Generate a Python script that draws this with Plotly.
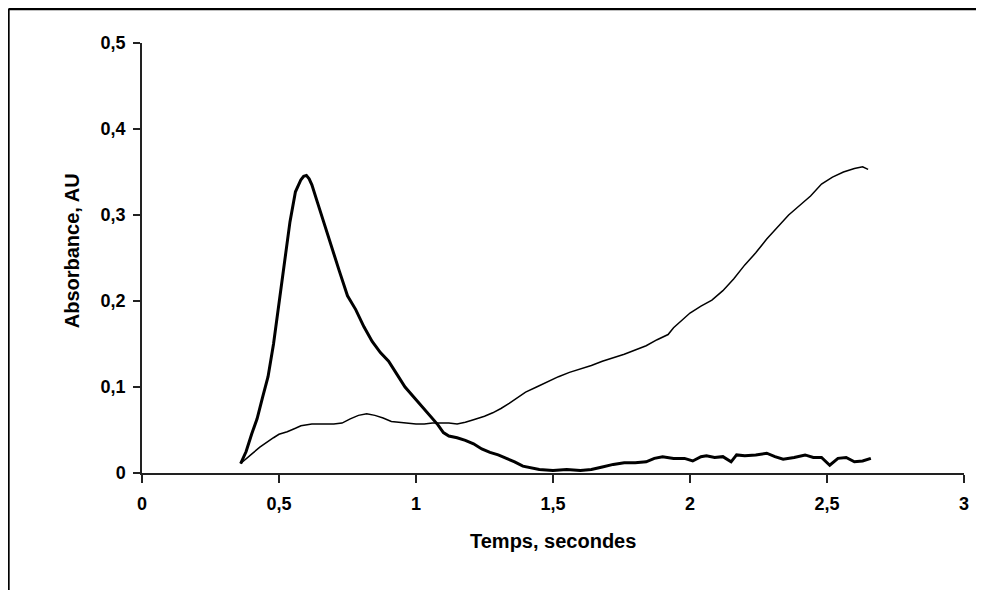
import plotly.graph_objects as go

# Thick curve (fast transient)
thick_x = [0.36, 0.38, 0.40, 0.42, 0.44, 0.46, 0.48, 0.50, 0.52, 0.54, 0.56, 0.58, 0.59, 0.60,
           0.61, 0.62, 0.64, 0.66, 0.68, 0.70, 0.72, 0.75, 0.78, 0.81, 0.84, 0.87, 0.90, 0.93,
           0.96, 0.99, 1.02, 1.05, 1.08, 1.10, 1.12, 1.15, 1.18, 1.21, 1.24, 1.27, 1.30, 1.33,
           1.36, 1.39, 1.42, 1.45, 1.50, 1.55, 1.60, 1.64, 1.68, 1.72, 1.76, 1.80, 1.84, 1.87,
           1.90, 1.94, 1.98, 2.01, 2.04, 2.06, 2.09, 2.12, 2.15, 2.17, 2.20, 2.24, 2.28, 2.31,
           2.34, 2.38, 2.42, 2.45, 2.48, 2.51, 2.54, 2.57, 2.60, 2.63, 2.66]
thick_y = [0.011, 0.025, 0.045, 0.063, 0.088, 0.112, 0.150, 0.198, 0.245, 0.292, 0.327, 0.341, 0.345, 0.346,
           0.342, 0.335, 0.315, 0.295, 0.273, 0.253, 0.235, 0.206, 0.190, 0.170, 0.153, 0.140, 0.130, 0.115,
           0.100, 0.089, 0.078, 0.067, 0.056, 0.047, 0.043, 0.041, 0.038, 0.034, 0.028, 0.024, 0.021, 0.017,
           0.013, 0.008, 0.006, 0.004, 0.003, 0.004, 0.003, 0.004, 0.007, 0.010, 0.012, 0.012, 0.013, 0.017,
           0.019, 0.017, 0.017, 0.014, 0.019, 0.020, 0.018, 0.019, 0.013, 0.021, 0.020, 0.021, 0.023, 0.019,
           0.016, 0.018, 0.021, 0.018, 0.018, 0.009, 0.017, 0.018, 0.013, 0.014, 0.017]

# Thin curve (slow rise)
thin_x = [0.36, 0.38, 0.40, 0.43, 0.46, 0.48, 0.50, 0.53, 0.56, 0.58, 0.62, 0.66, 0.70, 0.73,
          0.76, 0.79, 0.82, 0.85, 0.88, 0.91, 0.94, 0.97, 1.00, 1.03, 1.06, 1.09, 1.12, 1.15,
          1.18, 1.21, 1.25, 1.28, 1.31, 1.34, 1.37, 1.40, 1.44, 1.48, 1.52, 1.56, 1.60, 1.64,
          1.68, 1.72, 1.76, 1.80, 1.84, 1.88, 1.92, 1.94, 1.97, 2.00, 2.04, 2.08, 2.12, 2.16,
          2.20, 2.24, 2.28, 2.32, 2.36, 2.40, 2.44, 2.48, 2.52, 2.56, 2.60, 2.63, 2.65]
thin_y = [0.011, 0.016, 0.022, 0.030, 0.037, 0.041, 0.045, 0.048, 0.052, 0.055, 0.057, 0.057, 0.057, 0.058,
          0.063, 0.067, 0.069, 0.067, 0.064, 0.060, 0.059, 0.058, 0.057, 0.057, 0.058, 0.058, 0.058, 0.057,
          0.059, 0.062, 0.066, 0.070, 0.075, 0.081, 0.088, 0.094, 0.100, 0.106, 0.112, 0.117, 0.121, 0.125,
          0.130, 0.134, 0.138, 0.143, 0.148, 0.155, 0.161, 0.169, 0.178, 0.186, 0.194, 0.201, 0.212, 0.226,
          0.242, 0.256, 0.272, 0.286, 0.300, 0.311, 0.322, 0.336, 0.344, 0.350, 0.354, 0.356, 0.353]

x_tickvals = [0, 0.5, 1, 1.5, 2, 2.5, 3]
x_ticktext = ["0", "0,5", "1", "1,5", "2", "2,5", "3"]
y_tickvals = [0, 0.1, 0.2, 0.3, 0.4, 0.5]
y_ticktext = ["0", "0,1", "0,2", "0,3", "0,4", "0,5"]

x_title = "Temps, secondes"
y_title = "Absorbance, AU"

FONT = "Liberation Sans"
tick_font = dict(family=FONT, size=18, color="black", weight="bold")

fig = go.Figure()
fig.add_trace(go.Scatter(x=thick_x, y=thick_y, mode="lines",
                         line=dict(color="black", width=3), showlegend=False))
fig.add_trace(go.Scatter(x=thin_x, y=thin_y, mode="lines",
                         line=dict(color="black", width=1.5), showlegend=False))

fig.update_xaxes(range=[0, 3], tickvals=x_tickvals, ticktext=x_ticktext,
                 showgrid=False, zeroline=False, showline=True, linecolor="#222",
                 linewidth=1.5, ticks="outside", ticklen=8, tickwidth=1.5, tickcolor="#222",
                 tickfont=tick_font, ticklabelstandoff=6)
fig.update_yaxes(range=[0, 0.5], tickvals=y_tickvals, ticktext=y_ticktext,
                 showgrid=False, zeroline=False, showline=True, linecolor="#222",
                 linewidth=1.5, ticks="outside", ticklen=7, tickwidth=1.5, tickcolor="#222",
                 tickfont=tick_font, ticklabelstandoff=4)

fig.update_layout(
    width=976, height=582,
    margin=dict(l=134, r=20, t=35, b=117),
    plot_bgcolor="white", paper_bgcolor="white",
    annotations=[
        dict(text=x_title, x=0.5, y=-0.158, xref="paper", yref="paper",
             xanchor="center", yanchor="middle", showarrow=False,
             font=dict(family=FONT, size=20, color="black", weight="bold")),
        dict(text=y_title, x=-0.085, y=0.516, xref="paper", yref="paper",
             xanchor="center", yanchor="middle", showarrow=False, textangle=-90,
             font=dict(family=FONT, size=20, color="black", weight="bold")),
    ],
    shapes=[
        dict(type="line", xref="paper", yref="paper", x0=-0.1625, x1=1.2, y0=1.0791, y1=1.0791,
             line=dict(color="black", width=2.5)),
        dict(type="line", xref="paper", yref="paper", x0=-0.1625, x1=-0.1625, y0=-0.5, y1=1.0791,
             line=dict(color="black", width=2.5)),
    ],
)

fig.write_html("out.html")
